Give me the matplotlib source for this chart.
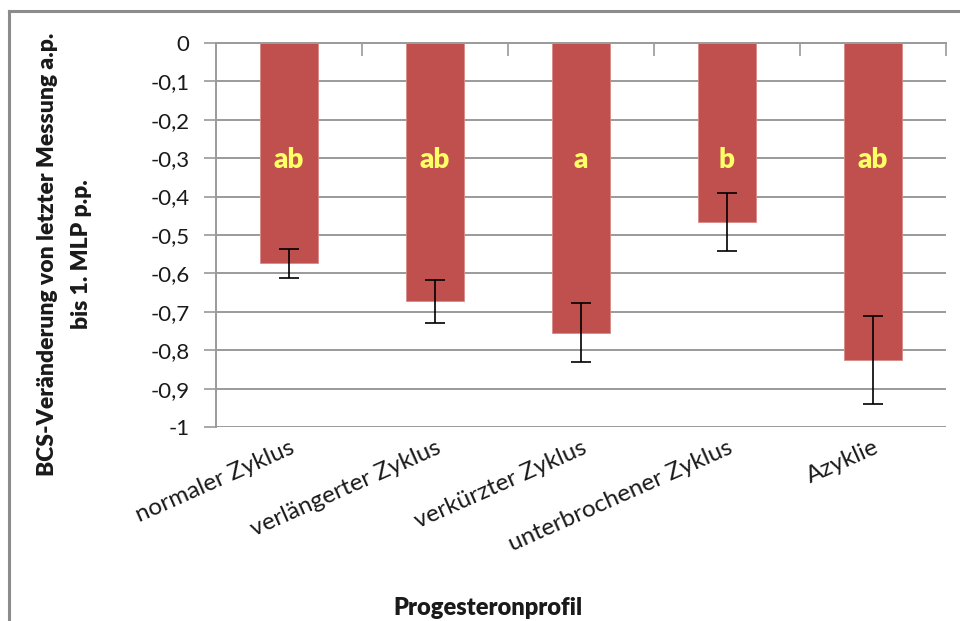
import matplotlib
matplotlib.use("Agg")
import matplotlib.pyplot as plt
from matplotlib.ticker import FuncFormatter, MultipleLocator
from matplotlib.lines import Line2D
import numpy as np

# BCS change from last measurement a.p. to first MLP p.p., by progesterone profile
profiles = ["normaler Zyklus", "verlängerter Zyklus", "verkürzter Zyklus",
            "unterbrochener Zyklus", "Azyklie"]
bcs_change = [-0.574, -0.672, -0.754, -0.466, -0.825]
bcs_err = [0.038, 0.056, 0.077, 0.076, 0.115]
letters = ["ab", "ab", "a", "b", "ab"]
letter_level = -0.305
ylabel_lines = ["BCS-Veränderung von letzter Messung a.p.", "bis 1. MLP p.p."]

plt.rcParams['font.family'] = ['Lato', 'DejaVu Sans']

bar_color = "#C0504D"
grid_color = "#9a9a9a"
text_color = "#1a1a1a"

fig = plt.figure(figsize=(9.6, 6.21), dpi=100)
ax = fig.add_axes([0.225, 0.3124, 0.7604, 0.6184])

x = np.arange(len(profiles))
ax.bar(x, bcs_change, width=0.4, color=bar_color, edgecolor="#d98a88",
       linewidth=0.6, zorder=3)
ax.errorbar(x, bcs_change, yerr=bcs_err, fmt="none", ecolor="black",
            elinewidth=1.2, capsize=7, capthick=1.2, zorder=4)

for xi, lab in zip(x, letters):
    ax.text(xi, letter_level, lab, ha="center", va="center", fontsize=20,
            fontweight="heavy", color="#FFFF66", zorder=5)

ax.set_xlim(-0.5, len(profiles) - 0.5)
ax.set_ylim(-1, 0)
ax.yaxis.set_major_locator(MultipleLocator(0.1))
ax.yaxis.set_major_formatter(FuncFormatter(
    lambda v, pos: ("%g" % round(v, 1)).replace(".", ",")))
ax.grid(axis="y", color=grid_color, linewidth=1.4, zorder=0)

for side in ["right", "bottom"]:
    ax.spines[side].set_visible(False)
for side in ["left", "top"]:
    ax.spines[side].set_color(grid_color)
    ax.spines[side].set_linewidth(1.4)

ax.tick_params(axis="y", length=9, width=1.2, color=grid_color,
               labelsize=16, labelcolor=text_color, pad=10)
ax.set_xticks(x)
ax.set_xticklabels(profiles, rotation=24, ha="right", va="top",
                   rotation_mode="anchor", fontsize=17.5, color=text_color)
ax.tick_params(axis="x", length=0, pad=7)

# category boundary ticks along the zero line
top = ax.secondary_xaxis("top")
top.set_xticks(np.arange(0.5, len(profiles), 1.0))
top.tick_params(direction="in", length=9, width=1.2, color=grid_color,
                labeltop=False)
top.spines["top"].set_visible(False)

# two-line y title, each line centred on its own
for xpos, line in zip([0.050, 0.0845], ylabel_lines):
    fig.text(xpos, 0.59, line, rotation=90, ha="center", va="center",
             fontsize=16.5, fontweight="heavy", color=text_color)
fig.text(0.508, 0.021, "Progesteronprofil", ha="center", va="center",
         fontsize=17, fontweight="heavy", color=text_color)

# outer frame
fig.add_artist(Line2D([0.0095, 0.0095], [0, 0.9825], color="#8c8c8c", lw=2.2))
fig.add_artist(Line2D([0.0095, 1.0], [0.9825, 0.9825], color="#8c8c8c", lw=2.2))

fig.savefig("out.png", dpi=100)
